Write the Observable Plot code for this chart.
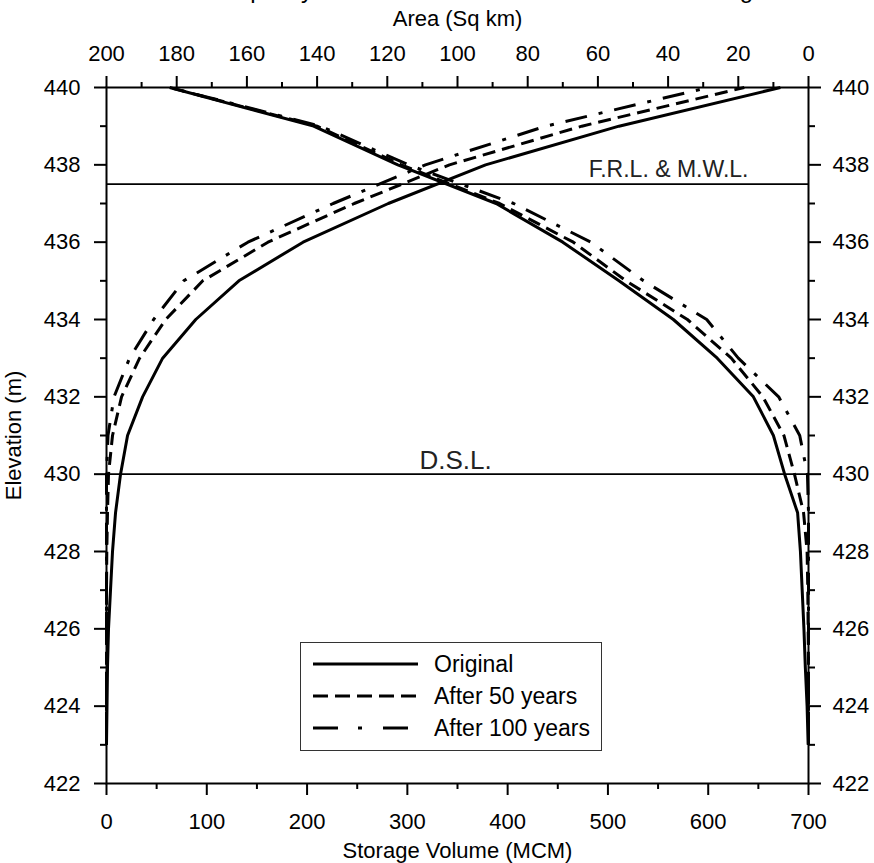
<!DOCTYPE html>
<html>
<head>
<meta charset="utf-8">
<script src="https://cdn.jsdelivr.net/npm/d3@7"></script>
<script src="https://cdn.jsdelivr.net/npm/@observablehq/plot@0.6"></script>
<style>
  body { margin: 0; background: #fff; font-family: "Liberation Sans", Arial, sans-serif; }
  #wrap { position: relative; width: 874px; height: 863px; overflow: hidden; background: #fff; }
  #title { position: absolute; left: 0; width: 914px; top: -22px; text-align: center; font-size: 24px; line-height: 24px; color: #000; white-space: nowrap; }
  #legend { position: absolute; left: 300px; top: 642px; width: 300px; height: 107px; border: 1px solid #333; background: #fff; }
</style>
</head>
<body>
<div id="wrap">
  <div id="title">Area-Capacity Curves before and after Reservoir Silting</div>
  <div id="chart"></div>
  <div id="legend"></div>
</div>
<script>
// ---------------- data ----------------
const elevations   = [423, 424, 425, 426, 427, 428, 429, 430, 431, 432, 433, 434, 435, 436, 437, 438, 439, 440];
// Storage volume (MCM)
const capOriginal  = [0, 0.5, 1, 2, 4, 6, 9, 14, 21, 36, 56, 89, 132, 196, 281, 378, 511, 672];
const cap50        = [0, 0, 0, 0, 0, 0.3, 1, 2, 6, 15, 33, 59, 96, 161, 247, 342, 474, 636];
const cap100       = [0, 0, 0, 0, 0, 0, 0, 0, 1.5, 7.5, 23, 47, 77, 141, 226, 318, 438, 600];
// Area (Sq km)
const areaOriginal = [0.1, 0.4, 0.9, 1.3, 1.8, 2.3, 3.1, 6.8, 10, 15.7, 26, 38.5, 54, 70, 89, 117, 141, 182];
const area50       = [0, 0, 0, 0.1, 0.2, 0.4, 1.4, 4, 7, 13, 22, 34.5, 52, 67, 88, 116, 140, 182];
const area100      = [0, 0, 0, 0, 0, 0, 0, 0.3, 2.5, 8.5, 20, 29, 47, 62, 84, 114, 139, 182];

const seriesNames  = ["Original", "After 50 years", "After 100 years"];
const seriesDash   = ["none", "13,7", "22,12,4,12"];
const legendDash   = ["none", "15,7", "25,20,4,21"];

const volumeTicks      = [0, 100, 200, 300, 400, 500, 600, 700];
const volumeMinorTicks = [50, 150, 250, 350, 450, 550, 650];
const areaTicks        = [200, 180, 160, 140, 120, 100, 80, 60, 40, 20, 0];
const areaMinorTicks   = [190, 170, 150, 130, 110, 90, 70, 50, 30, 10];
const elevTicks        = [422, 424, 426, 428, 430, 432, 434, 436, 438, 440];
const elevMinorTicks   = [423, 425, 427, 429, 431, 433, 435, 437, 439];

const xTitle = "Storage Volume (MCM)";
const x2Title = "Area (Sq km)";
const yTitle = "Elevation (m)";

const levelElev   = [437.5, 430];
const levelLabels = ["F.R.L. & M.W.L.", "D.S.L."];

const VOL_MAX = 700, AREA_MAX = 200;
// top (area) axis runs reversed over the same width as the volume axis
const areaToX = a => (AREA_MAX - a) * VOL_MAX / AREA_MAX;

const capSeries  = [capOriginal, cap50, cap100];
const areaSeries = [areaOriginal, area50, area100];

const rows = [];
seriesNames.forEach((name, i) => {
  elevations.forEach((e, j) => {
    rows.push({series: name, curve: "capacity", elev: e, x: capSeries[i][j]});
  });
  elevations.forEach((e, j) => {
    rows.push({series: name, curve: "area", elev: e, x: areaToX(areaSeries[i][j])});
  });
});

const levels = levelElev.map((e, i) => ({elev: e, label: levelLabels[i]}));

const W = 874, H = 863;
const curveMarks = seriesNames.map((name, i) =>
  Plot.line(rows.filter(r => r.series === name), {
    x: "x", y: "elev", z: "curve",
    stroke: "#000", strokeWidth: 3,
    strokeDasharray: seriesDash[i] === "none" ? undefined : seriesDash[i],
    strokeLinejoin: "miter", strokeLinecap: "butt"
  })
);

const chart = Plot.plot({
  width: W,
  height: H,
  marginLeft: 106,
  marginRight: 66,
  marginTop: 87,
  marginBottom: 80,
  style: {fontFamily: "'Liberation Sans', Arial, sans-serif", fontSize: "22px", color: "#000", background: "#fff", overflow: "visible"},
  x: {domain: [0, VOL_MAX], nice: false},
  y: {domain: [422, 440], nice: false},
  marks: [
    Plot.ruleY(levels, {y: "elev", stroke: "#000", strokeWidth: 1.6}),
    Plot.text([levels[0]], {y: "elev", text: "label", frameAnchor: "right", textAnchor: "end", lineAnchor: "bottom", dx: -60, dy: -7, fontSize: 23, fill: "#222"}),
    Plot.text([levels[1]], {y: "elev", text: "label", frameAnchor: "middle", lineAnchor: "bottom", dx: -2, dy: -5, fontSize: 26, fill: "#222"}),
    ...curveMarks,
    Plot.frame({stroke: "#000", strokeWidth: 2}),
    // bottom: storage volume
    Plot.axisX(volumeTicks, {anchor: "bottom", tickSize: 12, tickPadding: 18, strokeWidth: 2, label: null}),
    Plot.axisX(volumeMinorTicks, {anchor: "bottom", tickSize: 6, strokeWidth: 2, fill: "none", label: null}),
    Plot.text([xTitle], {text: d => d, frameAnchor: "bottom", lineAnchor: "bottom", dy: 74, fontSize: 22, fill: "#000"}),
    // top: area
    Plot.axisX(areaTicks.map(areaToX), {anchor: "top", tickSize: 12, tickPadding: 15, strokeWidth: 2,
      tickFormat: v => String(Math.round(AREA_MAX - v * AREA_MAX / VOL_MAX)),
      label: x2Title, labelAnchor: "center", labelOffset: 77, labelArrow: "none"}),
    Plot.axisX(areaMinorTicks.map(areaToX), {anchor: "top", tickSize: 6, strokeWidth: 2, fill: "none", label: null}),
    // left/right: elevation
    Plot.axisY(elevTicks, {anchor: "left", tickSize: 12, tickPadding: 14, strokeWidth: 2,
      label: yTitle, labelAnchor: "center", labelOffset: 101, labelArrow: "none"}),
    Plot.axisY(elevMinorTicks, {anchor: "left", tickSize: 6, strokeWidth: 2, fill: "none", label: null}),
    Plot.axisY(elevTicks, {anchor: "right", tickSize: 12, tickPadding: 12, strokeWidth: 2, label: null}),
    Plot.axisY(elevMinorTicks, {anchor: "right", tickSize: 6, strokeWidth: 2, fill: "none", label: null})
  ]
});
document.getElementById("chart").appendChild(chart);

// ---------------- legend (inside plot area, as an overlay) ----------------
const lg = d3.select("#legend").append("svg").attr("width", 300).attr("height", 107)
  .style("font-family", "'Liberation Sans', Arial, sans-serif");
seriesNames.forEach((name, i) => {
  const y = 21 + i * 32;
  lg.append("line").attr("x1", 12).attr("x2", 117).attr("y1", y).attr("y2", y)
    .attr("stroke", "#000").attr("stroke-width", 3)
    .attr("stroke-dasharray", legendDash[i] === "none" ? null : legendDash[i]);
  lg.append("text").attr("x", 133).attr("y", y).attr("dy", "0.35em")
    .attr("font-size", 23).attr("fill", "#000").text(name);
});
</script>
</body>
</html>
